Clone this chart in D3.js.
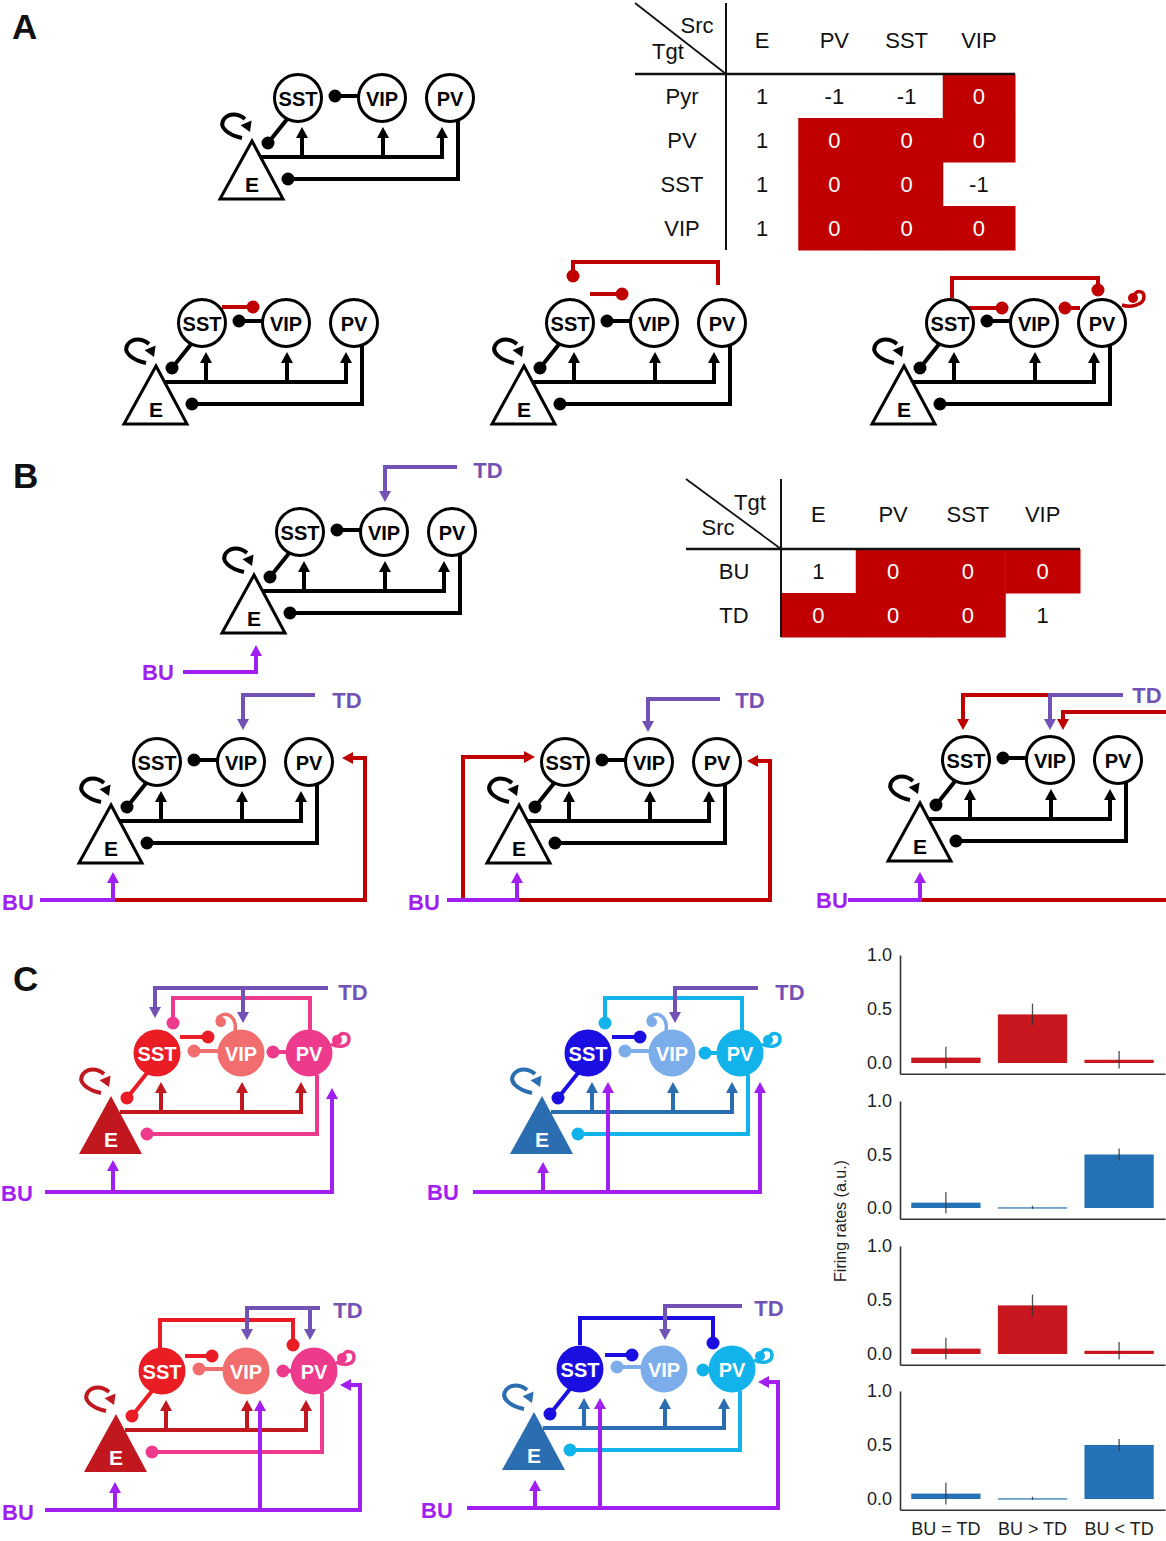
<!DOCTYPE html>
<html>
<head>
<meta charset="utf-8">
<script src="https://cdn.jsdelivr.net/npm/d3@7"></script>
<style>
  body { margin: 0; background: #fff; }
  svg { display: block; }
  text { font-family: "Liberation Sans", Arial, Helvetica, sans-serif; }
</style>
</head>
<body>
<svg id="fig" width="1166" height="1541"></svg>
<script>
// ---------- data ----------
const tableACols = ["E", "PV", "SST", "VIP"];
const tableARows = ["Pyr", "PV", "SST", "VIP"];
const tableAValues = [[1, -1, -1, 0], [1, 0, 0, 0], [1, 0, 0, -1], [1, 0, 0, 0]];

const tableBCols = ["E", "PV", "SST", "VIP"];
const tableBRows = ["BU", "TD"];
const tableBValues = [[1, 0, 0, 0], [0, 0, 0, 1]];

const conditions = ["BU = TD", "BU > TD", "BU < TD"];
const rateTicks = [0, 0.5, 1.0];
const redRates = [0.05, 0.45, 0.03];
const redErr = [0.10, 0.10, 0.08];
const blueRates = [0.05, 0.006, 0.50];
const blueErr = [0.10, 0.015, 0.055];

const cellTypes = ["SST", "VIP", "PV"];

// ---------- styling ----------
const palette = { red: "#c00000", TD: "#7352b5", BU: "#a21ff2" };
const themes = {
  black: { SST: "#000", VIP: "#000", PV: "#000", E: "#000", filled: false },
  warm:  { SST: "#ea1c24", VIP: "#f26d6d", PV: "#ee3a8c", E: "#c1181f", filled: true },
  cool:  { SST: "#1a0fe0", VIP: "#7badea", PV: "#12b2ea", E: "#2a6db0", filled: true }
};
const nodeX = { SST: 0, VIP: 84, PV: 152 };
const R = 23.5;

const svg = d3.select("#fig");

// ---------- circuit drawing ----------
function drawWire(lg, hg, pts, color, end) {
  const p = pts.map(d => d.slice());
  const n = p.length;
  const b = pts[n - 1];
  if (end === "arrow") {
    const a = pts[n - 2];
    const dx = b[0] - a[0], dy = b[1] - a[1], L = Math.hypot(dx, dy);
    const ux = dx / L, uy = dy / L, hl = 11, hw = 6;
    p[n - 1] = [b[0] - ux * (hl - 2), b[1] - uy * (hl - 2)];
    hg.append("path")
      .attr("d", `M${b[0]},${b[1]}L${b[0] - ux * hl - uy * hw},${b[1] - uy * hl + ux * hw}L${b[0] - ux * hl + uy * hw},${b[1] - uy * hl - ux * hw}Z`)
      .attr("fill", color);
  } else if (end === "dot") {
    hg.append("circle").attr("cx", b[0]).attr("cy", b[1]).attr("r", 6.5).attr("fill", color);
  }
  lg.append("path").attr("d", d3.line()(p))
    .attr("fill", "none").attr("stroke", color).attr("stroke-width", 4)
    .attr("stroke-linejoin", "miter");
}

function arrowHead(hg, from, tip, color) {
  const dx = tip[0] - from[0], dy = tip[1] - from[1], L = Math.hypot(dx, dy);
  const ux = dx / L, uy = dy / L, hl = 10, hw = 6;
  hg.append("path")
    .attr("d", `M${tip[0]},${tip[1]}L${tip[0] - ux * hl - uy * hw},${tip[1] - uy * hl + ux * hw}L${tip[0] - ux * hl + uy * hw},${tip[1] - uy * hl - ux * hw}Z`)
    .attr("fill", color);
}

const baseWires = [
  { pts: [[-10, 20], [-30, 45]], c: "SST", end: "dot" },
  { pts: [[62, -2], [37, -2]], c: "VIP", end: "dot" },
  { pts: [[160, 22], [160, 81], [-10, 81]], c: "PV", end: "dot" },
  { pts: [[-37, 59], [144, 59], [144, 29]], c: "E", end: "arrow" },
  { pts: [[4, 59], [4, 29]], c: "E", end: "arrow" },
  { pts: [[85, 59], [85, 29]], c: "E", end: "arrow" }
];

function drawCircuit(spec) {
  const th = themes[spec.theme];
  const col = c => th[c] || palette[c] || c;
  const g = svg.append("g").attr("transform", `translate(${spec.x},${spec.y})`);
  const lg = g.append("g"), ng = g.append("g"), hg = g.append("g");

  baseWires.concat(spec.wires || []).forEach(w => drawWire(lg, hg, w.pts, col(w.c), w.end));

  // recurrent excitation of E
  lg.append("path").attr("d", "M-56,40 C-70,37 -80,29 -74,21 C-69,15 -60,15 -53,21")
    .attr("fill", "none").attr("stroke", col("E")).attr("stroke-width", 4);
  arrowHead(hg, [-54, 20], [-48, 34], col("E"));

  // self-inhibition loops
  (spec.loops || []).forEach(l => {
    const c = col(l.c);
    lg.append("path").attr("d", l.d).attr("fill", "none").attr("stroke", c).attr("stroke-width", 3.5);
    hg.append("circle").attr("cx", l.dot[0]).attr("cy", l.dot[1]).attr("r", 5).attr("fill", c);
  });

  // E population
  ng.append("path").attr("d", "M-46,43L-78,101L-15,101Z")
    .attr("fill", th.filled ? col("E") : "#fff")
    .attr("stroke", th.filled ? "none" : "#000").attr("stroke-width", 3)
    .attr("stroke-linejoin", "miter");
  ng.append("text").attr("x", -46).attr("y", 94).attr("text-anchor", "middle")
    .attr("font-size", 21).attr("font-weight", "bold")
    .attr("fill", th.filled ? "#fff" : "#000").text("E");

  // interneuron populations
  cellTypes.forEach(t => {
    ng.append("circle").attr("cx", nodeX[t]).attr("cy", 0).attr("r", R)
      .attr("fill", th.filled ? col(t) : "#fff")
      .attr("stroke", th.filled ? "none" : "#000").attr("stroke-width", 3);
    ng.append("text").attr("x", nodeX[t]).attr("y", 7.5).attr("text-anchor", "middle")
      .attr("font-size", 20).attr("font-weight", "bold")
      .attr("fill", th.filled ? "#fff" : "#000").text(t);
  });

  (spec.labels || []).forEach(l => {
    g.append("text").attr("x", l.x).attr("y", l.y + 8).attr("text-anchor", "middle")
      .attr("font-size", 22).attr("font-weight", "bold").attr("fill", palette[l.t]).text(l.t);
  });
}

const vipLoop = { d: "M78,-22 C80,-34 72,-41 65,-38 C58,-35 59,-27 65,-28", dot: [64, -31] };
const pvLoop = { d: "M174,-9 C182,-5 192,-6 192,-14 C192,-21 183,-21 181,-15", dot: [180, -13] };

const circuits = [
  // A
  { x: 298, y: 98, theme: "black" },
  { x: 202, y: 323, theme: "black", wires: [
    { pts: [[20, -16], [51, -16]], c: "red", end: "dot" } ] },
  { x: 570, y: 323, theme: "black", wires: [
    { pts: [[20, -29], [52, -29]], c: "red", end: "dot" },
    { pts: [[148, -38], [148, -61], [3, -61], [3, -47]], c: "red", end: "dot" } ] },
  { x: 950, y: 323, theme: "black", wires: [
    { pts: [[2, -25], [2, -45], [148, -45], [148, -33]], c: "red", end: "dot" },
    { pts: [[18, -15], [52, -15]], c: "red", end: "dot" },
    { pts: [[130, -15], [115, -15]], c: "red", end: "dot" } ],
    loops: [{ c: "red", d: "M172,-18 C180,-15 194,-18 194,-26 C194,-33 186,-33 184,-27", dot: [183, -25] }] },
  // B
  { x: 300, y: 532, theme: "black", wires: [
    { pts: [[157, -65], [85, -65], [85, -30]], c: "TD", end: "arrow" },
    { pts: [[-117, 140], [-44, 140], [-44, 113]], c: "BU", end: "arrow" } ],
    labels: [{ t: "TD", x: 188, y: -62 }, { t: "BU", x: -142, y: 140 }] },
  { x: 157, y: 762, theme: "black", wires: [
    { pts: [[158, -67], [86, -67], [86, -32]], c: "TD", end: "arrow" },
    { pts: [[-44, 138], [208, 138], [208, -4], [185, -4]], c: "red", end: "arrow" },
    { pts: [[-117, 138], [-44, 138], [-44, 110]], c: "BU", end: "arrow" } ],
    labels: [{ t: "TD", x: 190, y: -62 }, { t: "BU", x: -139, y: 140 }] },
  { x: 565, y: 762, theme: "black", wires: [
    { pts: [[155, -63], [83, -63], [83, -30]], c: "TD", end: "arrow" },
    { pts: [[-48, 138], [205, 138], [205, -1], [182, -1]], c: "red", end: "arrow" },
    { pts: [[-102, 138], [-102, -5], [-30, -5]], c: "red", end: "arrow" },
    { pts: [[-118, 138], [-48, 138], [-48, 110]], c: "BU", end: "arrow" } ],
    labels: [{ t: "TD", x: 185, y: -62 }, { t: "BU", x: -141, y: 140 }] },
  { x: 966, y: 760, theme: "black", wires: [
    { pts: [[84, -65], [-3, -65], [-3, -30]], c: "red", end: "arrow" },
    { pts: [[157, -65], [84, -65], [84, -30]], c: "TD", end: "arrow" },
    { pts: [[200, -48], [97, -48], [97, -30]], c: "red", end: "arrow" },
    { pts: [[-46, 140], [210, 140]], c: "red", end: null },
    { pts: [[-118, 140], [-46, 140], [-46, 112]], c: "BU", end: "arrow" } ],
    labels: [{ t: "TD", x: 181, y: -65 }, { t: "BU", x: -134, y: 140 }] },
  // C
  { x: 157, y: 1053, theme: "warm", wires: [
    { pts: [[23, -16], [51, -16]], c: "SST", end: "dot" },
    { pts: [[130, -1], [116, -1]], c: "PV", end: "dot" },
    { pts: [[153, -23], [153, -55], [16, -55], [16, -30]], c: "PV", end: "dot" },
    { pts: [[171, -65], [-2, -65], [-2, -35]], c: "TD", end: "arrow" },
    { pts: [[86, -65], [86, -30]], c: "TD", end: "arrow" },
    { pts: [[-112, 139], [175, 139], [175, 35]], c: "BU", end: "arrow" },
    { pts: [[-44, 139], [-44, 107]], c: "BU", end: "arrow" } ],
    loops: [Object.assign({ c: "VIP" }, vipLoop), Object.assign({ c: "PV" }, pvLoop)],
    labels: [{ t: "TD", x: 196, y: -61 }, { t: "BU", x: -140, y: 140 }] },
  { x: 588, y: 1053, theme: "cool", wires: [
    { pts: [[24, -16], [52, -16]], c: "SST", end: "dot" },
    { pts: [[130, 0], [117, 0]], c: "PV", end: "dot" },
    { pts: [[154, -23], [154, -55], [17, -55], [17, -30]], c: "PV", end: "dot" },
    { pts: [[170, -65], [87, -65], [87, -30]], c: "TD", end: "arrow" },
    { pts: [[-115, 139], [172, 139], [172, 29]], c: "BU", end: "arrow" },
    { pts: [[-45, 139], [-45, 109]], c: "BU", end: "arrow" },
    { pts: [[20, 139], [20, 29]], c: "BU", end: "arrow" } ],
    loops: [Object.assign({ c: "VIP" }, vipLoop), Object.assign({ c: "PV" }, pvLoop)],
    labels: [{ t: "TD", x: 202, y: -61 }, { t: "BU", x: -145, y: 139 }] },
  { x: 162, y: 1371, theme: "warm", wires: [
    { pts: [[-2, -23], [-2, -51], [131, -51], [131, -26]], c: "SST", end: "dot" },
    { pts: [[23, -15], [50, -15]], c: "SST", end: "dot" },
    { pts: [[129, 0], [121, 0]], c: "PV", end: "dot" },
    { pts: [[158, -63], [85, -63], [85, -31]], c: "TD", end: "arrow" },
    { pts: [[148, -63], [148, -31]], c: "TD", end: "arrow" },
    { pts: [[-117, 139], [198, 139], [198, 14], [178, 14]], c: "BU", end: "arrow" },
    { pts: [[-47, 139], [-47, 111]], c: "BU", end: "arrow" },
    { pts: [[98, 139], [98, 29]], c: "BU", end: "arrow" } ],
    loops: [Object.assign({ c: "PV" }, pvLoop)],
    labels: [{ t: "TD", x: 186, y: -61 }, { t: "BU", x: -144, y: 141 }] },
  { x: 580, y: 1369, theme: "cool", wires: [
    { pts: [[0, -24], [0, -51], [133, -51], [133, -26]], c: "SST", end: "dot" },
    { pts: [[25, -14], [52, -14]], c: "SST", end: "dot" },
    { pts: [[130, 1], [123, 1]], c: "PV", end: "dot" },
    { pts: [[162, -63], [85, -63], [85, -29]], c: "TD", end: "arrow" },
    { pts: [[-113, 139], [198, 139], [198, 13], [178, 13]], c: "BU", end: "arrow" },
    { pts: [[-45, 139], [-45, 111]], c: "BU", end: "arrow" },
    { pts: [[20, 139], [20, 29]], c: "BU", end: "arrow" } ],
    loops: [Object.assign({ c: "PV" }, pvLoop)],
    labels: [{ t: "TD", x: 189, y: -61 }, { t: "BU", x: -143, y: 141 }] }
];
circuits.forEach(drawCircuit);

// ---------- weight tables ----------
function drawTable(t) {
  const g = svg.append("g");
  const cx = d3.scaleBand().domain(t.cols).range(t.xr);
  const ry = d3.scaleBand().domain(t.rows).range(t.yr);
  t.values.forEach((row, i) => row.forEach((v, j) => {
    const x = cx(t.cols[j]), y = ry(t.rows[i]);
    if (v === 0) {
      g.append("rect").attr("x", x).attr("y", y).attr("width", cx.bandwidth() + 0.5)
        .attr("height", ry.bandwidth() + 0.5).attr("fill", palette.red);
    }
    g.append("text").attr("x", x + cx.bandwidth() / 2).attr("y", y + ry.bandwidth() / 2 + 8)
      .attr("text-anchor", "middle").attr("font-size", 22)
      .attr("fill", v === 0 ? "#fff" : "#111").text(v);
  }));
  t.cols.forEach(c => g.append("text").attr("x", cx(c) + cx.bandwidth() / 2).attr("y", t.headY + 8)
    .attr("text-anchor", "middle").attr("font-size", 22).attr("fill", "#111").text(c));
  t.rows.forEach(r => g.append("text").attr("x", t.rowX).attr("y", ry(r) + ry.bandwidth() / 2 + 8)
    .attr("text-anchor", "middle").attr("font-size", 22).attr("fill", "#111").text(r));
  const ln = (x1, y1, x2, y2, w) => g.append("line").attr("x1", x1).attr("y1", y1)
    .attr("x2", x2).attr("y2", y2).attr("stroke", "#111").attr("stroke-width", w);
  ln(t.xr[0], t.top, t.xr[0], t.yr[1], 2);
  ln(t.left, t.yr[0], t.xr[1], t.yr[0], 2.5);
  ln(t.left, t.top, t.xr[0], t.yr[0], 1.8);
  t.corner.forEach(c => g.append("text").attr("x", c.x).attr("y", c.y + 8)
    .attr("text-anchor", "middle").attr("font-size", 22).attr("fill", "#111").text(c.t));
}

drawTable({ cols: tableACols, rows: tableARows, values: tableAValues,
  xr: [726, 1015], yr: [74, 250], headY: 40, rowX: 682, top: 3, left: 635,
  corner: [{ t: "Src", x: 697, y: 25 }, { t: "Tgt", x: 668, y: 51 }] });
drawTable({ cols: tableBCols, rows: tableBRows, values: tableBValues,
  xr: [781, 1080], yr: [549, 637], headY: 514, rowX: 734, top: 479, left: 686,
  corner: [{ t: "Tgt", x: 750, y: 502 }, { t: "Src", x: 718, y: 527 }] });

// ---------- panel letters ----------
[["A", 12, 39], ["B", 13, 488], ["C", 13, 991]].forEach(([t, x, y]) =>
  svg.append("text").attr("x", x).attr("y", y).attr("font-size", 35)
    .attr("font-weight", "bold").attr("fill", "#111").text(t));

// ---------- firing-rate bars ----------
const bx = d3.scaleBand().domain(conditions).range([900, 1165])
  .paddingInner(0.2).paddingOuter(0.13);
const barPanels = [
  { top: 955, zero: 1063, means: redRates, errs: redErr, color: "#c8171e" },
  { top: 1101, zero: 1208, means: blueRates, errs: blueErr, color: "#2471b5" },
  { top: 1246, zero: 1354, means: redRates, errs: redErr, color: "#c8171e" },
  { top: 1391, zero: 1499, means: blueRates, errs: blueErr, color: "#2471b5" }
];
barPanels.forEach((p, k) => {
  const unit = p.zero - p.top;
  const y = d3.scaleLinear().domain([-0.1, 1]).range([p.zero + 0.1 * unit, p.top]);
  const g = svg.append("g");
  g.selectAll("rect.bar").data(p.means).join("rect").attr("class", "bar")
    .attr("x", (d, i) => bx(conditions[i])).attr("width", bx.bandwidth())
    .attr("y", d => y(d)).attr("height", d => Math.max(1.2, y(0) - y(d)))
    .attr("fill", p.color);
  g.selectAll("line.err").data(p.means).join("line").attr("class", "err")
    .attr("x1", (d, i) => bx(conditions[i]) + bx.bandwidth() / 2)
    .attr("x2", (d, i) => bx(conditions[i]) + bx.bandwidth() / 2)
    .attr("y1", (d, i) => y(d - p.errs[i])).attr("y2", (d, i) => y(d + p.errs[i]))
    .attr("stroke", "#333").attr("stroke-width", 1.3).attr("opacity", 0.85);
  const ya = g.append("g").attr("transform", "translate(900,0)")
    .call(d3.axisLeft(y).tickValues(rateTicks).tickFormat(d3.format(".1f")).tickSize(0).tickPadding(8));
  const xa = g.append("g").attr("transform", `translate(0,${y(-0.1)})`)
    .call(d3.axisBottom(bx).tickSize(0).tickPadding(12));
  [ya, xa].forEach(a => {
    a.select(".domain").attr("stroke", "#333").attr("stroke-width", 1.6);
    a.selectAll("text").attr("font-size", 18).attr("fill", "#222")
      .attr("font-family", '"Liberation Sans", Arial, sans-serif');
  });
  if (k < barPanels.length - 1) xa.selectAll(".tick text").remove();
});
svg.append("text").attr("transform", "translate(846,1221) rotate(-90)")
  .attr("text-anchor", "middle").attr("font-size", 16).attr("fill", "#222")
  .text("Firing rates (a.u.)");
</script>
</body>
</html>
